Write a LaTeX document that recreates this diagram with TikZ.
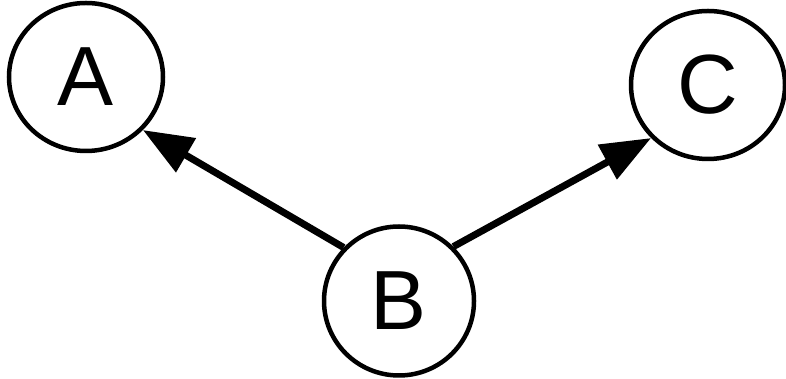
\documentclass[tikz,border=0pt]{standalone}
\usepackage{fontspec}
\setmainfont{Liberation Sans}
\usetikzlibrary{arrows.meta,shapes.geometric}
\begin{document}
\begin{tikzpicture}[x=1pt,y=1pt,
  vnode/.style={draw=black,line width=4.5pt,ellipse,inner sep=0pt,minimum width=154pt,minimum height=148pt,font=\fontsize{84}{84}\selectfont},
  edge/.style={line width=7pt,-{Triangle[length=50pt,width=38pt]}}]
\useasboundingbox[fill=white] (0,0) rectangle (786,379);
\node[vnode] (A) at (86,302) {A};
\node[vnode] (C) at (708,294) {C};
\node[vnode,minimum width=150pt,minimum height=149pt] (B) at (399,78) {B};
\draw[edge] (B.136) -- (A.-43.5);
\draw[edge] (B.45) -- (C.223);
\end{tikzpicture}
\end{document}
